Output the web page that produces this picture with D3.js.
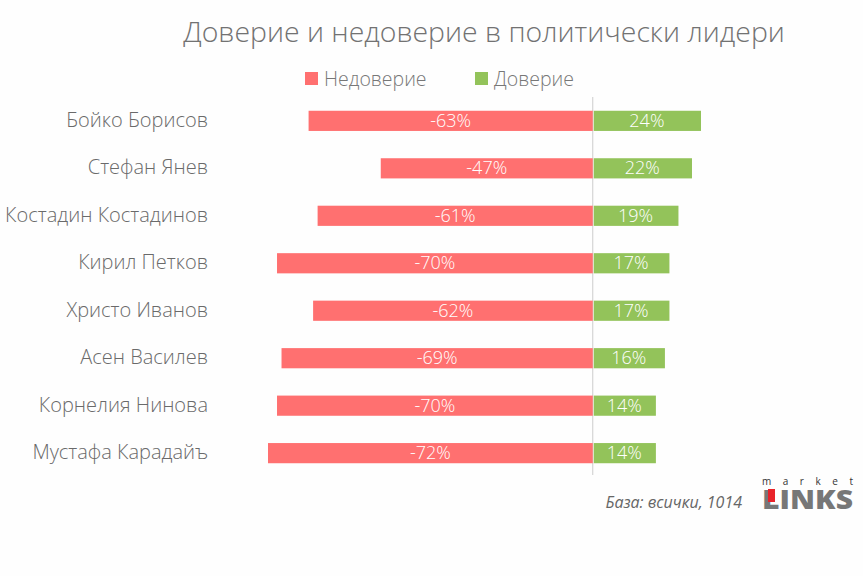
<!DOCTYPE html>
<html>
<head>
<meta charset="utf-8">
<script src="https://cdn.jsdelivr.net/npm/d3@7"></script>
<style>
  body { margin: 0; background: #fefefe; }
  text { font-family: "Open Sans", sans-serif; }
</style>
</head>
<body>
<svg id="chart" width="863" height="576"></svg>
<script>
// Данные
const leaders = [
  "Бойко Борисов",
  "Стефан Янев",
  "Костадин Костадинов",
  "Кирил Петков",
  "Христо Иванов",
  "Асен Василев",
  "Корнелия Нинова",
  "Мустафа Карадайъ",
];
const distrust = [-63, -47, -61, -70, -62, -69, -70, -72];
const trust = [24, 22, 19, 17, 17, 16, 14, 14];
const seriesNames = ["Недоверие", "Доверие"];

const svg = d3.select("#chart");
const red = "#ff7070";
const green = "#93c35a";

// Шкалы
const x = d3.scaleLinear().domain([-72, 24]).range([268, 701]);
const y = d3
  .scaleBand()
  .domain(leaders)
  .range([97, 477])
  .paddingInner(0.575)
  .paddingOuter(0.29);

// Заголовок
svg
  .append("text")
  .attr("x", 484)
  .attr("y", 42)
  .attr("text-anchor", "middle")
  .attr("font-size", 28.4)
  .attr("font-weight", 300)
  .attr("fill", "#727272")
  .text("Доверие и недоверие в политически лидери");

// Легенда
const legend = [
  { name: seriesNames[0], color: red, x: 305 },
  { name: seriesNames[1], color: green, x: 475 },
];
legend.forEach((d) => {
  svg
    .append("rect")
    .attr("x", d.x)
    .attr("y", 72)
    .attr("width", 13)
    .attr("height", 13)
    .attr("fill", d.color);
  svg
    .append("text")
    .attr("x", d.x + 19)
    .attr("y", 86)
    .attr("font-size", 19.5)
    .attr("font-weight", 300)
    .attr("fill", "#777")
    .text(d.name);
});

// Нулевая линия
svg
  .append("line")
  .attr("x1", x(0))
  .attr("x2", x(0))
  .attr("y1", 97)
  .attr("y2", 475)
  .attr("stroke", "#ccc")
  .attr("stroke-width", 1);

const rows = leaders.map((name, i) => ({ name, neg: distrust[i], pos: trust[i] }));

// Имена
svg
  .selectAll(".name")
  .data(rows)
  .enter()
  .append("text")
  .attr("x", 208)
  .attr("y", (d) => y(d.name) + y.bandwidth() / 2 + 6)
  .attr("text-anchor", "end")
  .attr("font-size", 20)
  .attr("font-weight", 300)
  .attr("fill", "#6a6a6a")
  .text((d) => d.name);

// Недоверие
svg
  .selectAll(".neg")
  .data(rows)
  .enter()
  .append("rect")
  .attr("x", (d) => x(d.neg))
  .attr("y", (d) => y(d.name))
  .attr("width", (d) => x(0) - x(d.neg))
  .attr("height", y.bandwidth())
  .attr("fill", red);

// Доверие
svg
  .selectAll(".pos")
  .data(rows)
  .enter()
  .append("rect")
  .attr("x", x(0) + 1)
  .attr("y", (d) => y(d.name))
  .attr("width", (d) => x(d.pos) - x(0) - 1)
  .attr("height", y.bandwidth())
  .attr("fill", green);

// Подписи значений
svg
  .selectAll(".negLabel")
  .data(rows)
  .enter()
  .append("text")
  .attr("x", (d) => (x(d.neg) + x(0)) / 2)
  .attr("y", (d) => y(d.name) + y.bandwidth() / 2 + 6)
  .attr("text-anchor", "middle")
  .attr("font-size", 18)
  .attr("font-weight", 300)
  .attr("fill", "#fff")
  .text((d) => d.neg + "%");

svg
  .selectAll(".posLabel")
  .data(rows)
  .enter()
  .append("text")
  .attr("x", (d) => (x(d.pos) + x(0)) / 2)
  .attr("y", (d) => y(d.name) + y.bandwidth() / 2 + 6)
  .attr("text-anchor", "middle")
  .attr("font-size", 18)
  .attr("font-weight", 300)
  .attr("fill", "#fff")
  .text((d) => d.pos + "%");

// База
svg
  .append("text")
  .attr("x", 742)
  .attr("y", 508)
  .attr("text-anchor", "end")
  .attr("font-size", 16)
  .attr("font-style", "italic")
  .attr("fill", "#666")
  .text("База: всички, 1014");

// Лого
const logo = svg.append("g").attr("transform", "translate(762,478)");
logo
  .append("text")
  .attr("x", 0)
  .attr("y", 7)
  .attr("font-size", 10)
  .attr("fill", "#333")
  .attr("textLength", 91)
  .attr("lengthAdjust", "spacing")
  .text("market");
logo
  .append("text")
  .attr("x", 0)
  .attr("y", 31)
  .attr("font-size", 27)
  .attr("font-weight", 800)
  .attr("fill", "#777")
  .attr("textLength", 91)
  .attr("lengthAdjust", "spacingAndGlyphs")
  .text("LINKS");
logo
  .append("rect")
  .attr("x", 6)
  .attr("y", 11)
  .attr("width", 7)
  .attr("height", 13)
  .attr("fill", "#e8232a");
</script>
</body>
</html>
